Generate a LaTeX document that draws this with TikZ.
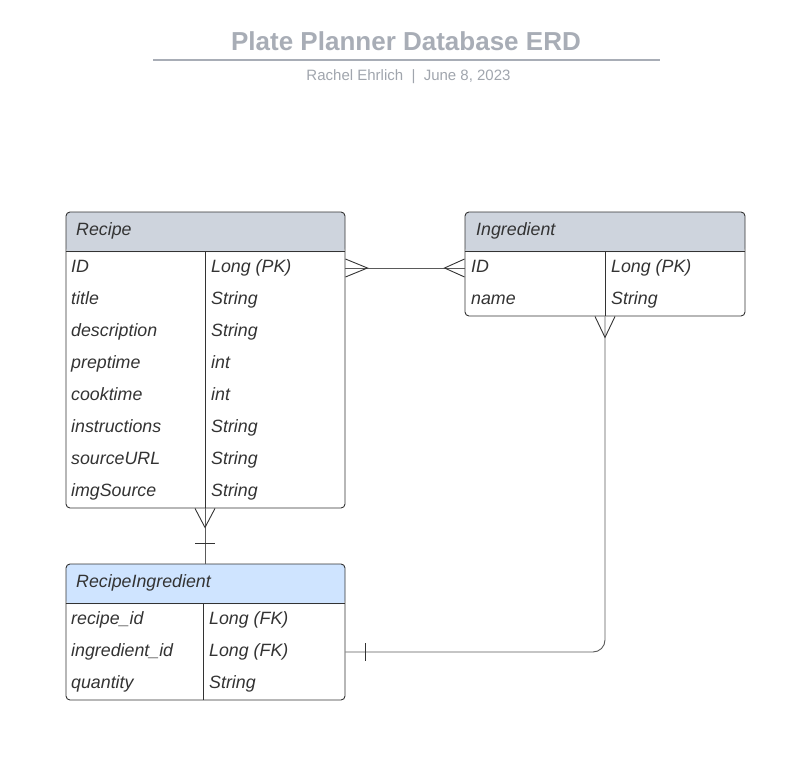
\documentclass[tikz,border=0pt]{standalone}
\usepackage{fontspec}
\setmainfont{Liberation Sans}
\usepackage{xcolor}
\definecolor{headgray}{RGB}{206,212,221}
\definecolor{headblue}{RGB}{207,228,255}
\definecolor{titlegray}{RGB}{168,173,182}
\definecolor{subgray}{RGB}{160,165,173}
\definecolor{boxline}{RGB}{51,51,51}
\definecolor{linkline}{RGB}{90,90,90}
\tikzset{
    entity-box/.style = {draw=boxline, fill=white, line width=0.9pt, rectangle, rounded corners=4pt, inner sep=0pt,
        path picture={\fill[#1] (path picture bounding box.north west) rectangle ([yshift=-40pt]path picture bounding box.north east);}},
    entity-title/.style = {text=boxline, font=\fontsize{17.8}{20}\selectfont\itshape, inner sep=0pt, anchor=base west},
    field/.style = {text=boxline, font=\fontsize{17.8}{20}\selectfont\itshape, inner sep=0pt, anchor=base west},
    rule/.style = {draw=boxline, line width=0.9pt},
    link/.style = {draw=linkline, line width=0.9pt},
}

\begin{document}
\begin{tikzpicture}[x=1pt, y=1pt]
\useasboundingbox (0,0) rectangle (809,-760);

% title
\node[text=titlegray, font=\fontsize{26}{30}\selectfont\bfseries, inner sep=0pt, anchor=base] (title) at (406,-50.3) {Plate Planner Database ERD};
\draw[titlegray, line width=1.6pt] (153,-60) -- (660,-60);
\node[text=subgray, font=\fontsize{15}{18}\selectfont, inner sep=0pt, anchor=base] (subtitle) at (408.5,-80.4) {Rachel Ehrlich~~|~~June 8, 2023};

% Recipe
\node[entity-box=headgray, minimum width=279pt, minimum height=296pt] (recipe) at (205.5,-360) {};
\node[entity-title] (recipe-title) at (76,-235.5) {Recipe};
\draw[rule] ([yshift=-40pt]recipe.north west) -- ([yshift=-40pt]recipe.north east);
\draw[rule] (205,-252) -- (205,-508);
\foreach \f/\t [count=\i] in {ID/Long (PK), title/String, description/String, preptime/int, cooktime/int, instructions/String, sourceURL/String, imgSource/String} {
    \node[field] (recipe-f\i) at (71,{-272.5-32*(\i-1)}) {\f};
    \node[field] (recipe-t\i) at (211,{-272.5-32*(\i-1)}) {\t};
    \coordinate (recipe-r\i) at (205,{-268-32*(\i-1)});
}

% Ingredient
\node[entity-box=headgray, minimum width=280pt, minimum height=104pt] (ingredient) at (605,-264) {};
\node[entity-title] (ingredient-title) at (476,-235.5) {Ingredient};
\draw[rule] ([yshift=-40pt]ingredient.north west) -- ([yshift=-40pt]ingredient.north east);
\draw[rule] (605,-252) -- (605,-316);
\foreach \f/\t [count=\i] in {ID/Long (PK), name/String} {
    \node[field] (ingredient-f\i) at (471,{-272.5-32*(\i-1)}) {\f};
    \node[field] (ingredient-t\i) at (611,{-272.5-32*(\i-1)}) {\t};
    \coordinate (ingredient-r\i) at (605,{-268-32*(\i-1)});
}

% RecipeIngredient
\node[entity-box=headblue, minimum width=279pt, minimum height=136pt] (recipeingredient) at (205.5,-632) {};
\node[entity-title] (recipeingredient-title) at (76,-587.5) {RecipeIngredient};
\draw[rule] ([yshift=-40pt]recipeingredient.north west) -- ([yshift=-40pt]recipeingredient.north east);
\draw[rule] (203,-604) -- (203,-700);
\foreach \f/\t [count=\i] in {recipe\_id/Long (FK), ingredient\_id/Long (FK), quantity/String} {
    \node[field] (recipeingredient-f\i) at (71,{-624.5-32*(\i-1)}) {\f};
    \node[field] (recipeingredient-t\i) at (209,{-624.5-32*(\i-1)}) {\t};
    \coordinate (recipeingredient-r\i) at (203,{-620-32*(\i-1)});
}

% Recipe -- Ingredient (many to many)
\coordinate (link1-a) at (recipe.east |- recipe-r1);
\coordinate (link1-b) at (ingredient.west |- recipe-r1);
\draw[link] (link1-a) -- (link1-b);
\draw[rule] (link1-a) ++(0,9) -- ++(22,-9) -- ++(-22,-9);
\draw[rule] (link1-b) ++(0,9) -- ++(-20,-9) -- ++(20,-9);

% Recipe -- RecipeIngredient
\coordinate (link2-a) at (recipe.south -| recipe-r1);
\coordinate (link2-b) at (recipeingredient.north -| recipe-r1);
\draw[link] (link2-a) -- (link2-b);
\draw[rule] (link2-a) ++(-10,0) -- ++(10,-19) -- ++(10,19);
\draw[rule] (link2-a) ++(-10,-35) -- ++(20,0);

% Ingredient -- RecipeIngredient
\coordinate (link3-a) at (ingredient.south -| ingredient-r1);
\coordinate (link3-b) at (recipeingredient.east |- recipeingredient-r2);
\draw[link, rounded corners=12pt] (link3-a) -- (link3-a |- link3-b) -- (link3-b);
\draw[rule] (link3-a) ++(-10,0) -- ++(10,-21) -- ++(10,21);
\draw[rule] (link3-b) ++(20,9) -- ++(0,-18);
\end{tikzpicture}
\end{document}
